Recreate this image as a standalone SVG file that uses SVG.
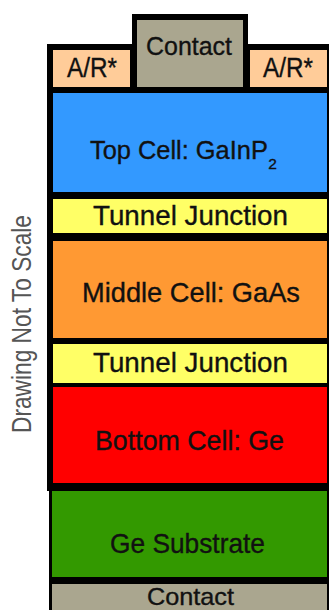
<svg xmlns="http://www.w3.org/2000/svg" width="329" height="610" viewBox="0 0 329 610">
<style>
.lbl{font-family:"Liberation Sans",Arial,sans-serif;fill:#111;stroke:#111;stroke-width:0.35px}
.frame{fill:#000}
.contact{fill:#aaa68f}
.ar{fill:#ffcc99}
.note{font-family:"Liberation Sans",Arial,sans-serif;fill:#555}
</style>
<rect width="329" height="610" fill="#fff"/>
<g id="frame">
<rect class="frame" x="132" y="14" width="116" height="80"/>
<rect class="frame" x="47" y="44" width="282" height="447"/>
<rect class="frame" x="49" y="488" width="280" height="122"/>
</g>
<g id="top-contact">
<rect class="contact" x="137" y="20" width="106" height="67"/>
<text class="lbl" x="146" y="55" font-size="26" textLength="86" lengthAdjust="spacingAndGlyphs">Contact</text>
</g>
<g id="ar-left">
<rect class="ar" x="53" y="50" width="77" height="37"/>
<text class="lbl" x="67" y="77" font-size="27" textLength="50" lengthAdjust="spacingAndGlyphs">A/R*</text>
</g>
<g id="ar-right">
<rect class="ar" x="250" y="50" width="77" height="37"/>
<text class="lbl" x="263" y="77" font-size="27" textLength="50" lengthAdjust="spacingAndGlyphs">A/R*</text>
</g>
<g id="top-cell">
<rect x="53" y="93" width="274" height="99" fill="#3399ff"/>
<text class="lbl" x="90" y="159" font-size="25.4">Top Cell: GaInP<tspan dx="0.5" dy="10" font-size="15.5">2</tspan></text>
</g>
<g id="tunnel-junction-1">
<rect x="53" y="199" width="274" height="34" fill="#ffff66"/>
<text class="lbl" x="93" y="225" font-size="28" textLength="195" lengthAdjust="spacingAndGlyphs">Tunnel Junction</text>
</g>
<g id="middle-cell">
<rect x="53" y="241" width="274" height="97" fill="#ff9933"/>
<text class="lbl" x="82" y="302" font-size="28" textLength="218" lengthAdjust="spacingAndGlyphs">Middle Cell: GaAs</text>
</g>
<g id="tunnel-junction-2">
<rect x="53" y="344" width="274" height="39" fill="#ffff66"/>
<text class="lbl" x="93" y="372" font-size="28" textLength="195" lengthAdjust="spacingAndGlyphs">Tunnel Junction</text>
</g>
<g id="bottom-cell">
<rect x="53" y="387" width="274" height="96" fill="#ff0000"/>
<text class="lbl" x="95" y="450" font-size="28" textLength="189" lengthAdjust="spacingAndGlyphs">Bottom Cell: Ge</text>
</g>
<g id="ge-substrate">
<rect x="52" y="491" width="275" height="86" fill="#339900"/>
<text class="lbl" x="110" y="553" font-size="28" textLength="155" lengthAdjust="spacingAndGlyphs">Ge Substrate</text>
</g>
<g id="bottom-contact">
<rect class="contact" x="52" y="584" width="275" height="30"/>
<text class="lbl" x="147" y="605" font-size="24" textLength="87" lengthAdjust="spacingAndGlyphs">Contact</text>
</g>
<g id="scale-note">
<text class="note" transform="translate(31,433) rotate(-90)" x="0" y="0" font-size="28" textLength="218" lengthAdjust="spacingAndGlyphs">Drawing Not To Scale</text>
</g>
</svg>
